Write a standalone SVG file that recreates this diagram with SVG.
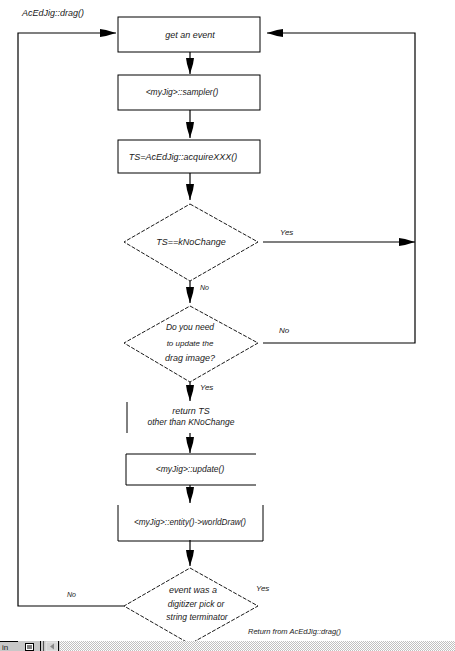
<svg xmlns="http://www.w3.org/2000/svg" width="455" height="651" viewBox="0 0 455 651">
<defs>
<style>
text{font-family:"Liberation Sans","DejaVu Sans",sans-serif;font-style:italic;fill:#1a1a1a;}
.t{font-size:9px;text-anchor:middle;}
.s{font-size:8px;}
.box{fill:#fff;stroke:#000;stroke-width:1;}
.edge{fill:none;stroke:#000;stroke-width:1;}
.dia{fill:#fff;stroke:#000;stroke-width:0.9;stroke-dasharray:4 1.5;}
.con{fill:none;stroke:#000;stroke-width:1.2;}
</style>
<marker id="ah" markerUnits="userSpaceOnUse" markerWidth="16" markerHeight="8" viewBox="0 0 16 8" refX="16" refY="4" orient="auto">
<path d="M0,0 L6,1 L16,4 L6,7 L0,8 Z" fill="#000"/>
</marker>
<pattern id="dith" width="2" height="2" patternUnits="userSpaceOnUse">
<rect width="2" height="2" fill="#fff"/>
<rect width="1" height="1" fill="#c0c0c0"/>
<rect x="1" y="1" width="1" height="1" fill="#c0c0c0"/>
</pattern>
</defs>
<rect width="455" height="651" fill="#fff"/>
<text class="s" x="22" y="16" style="font-size:9px">AcEdJig::drag()</text>

<g id="connectors">
<line class="con" x1="190" y1="52" x2="190" y2="74" marker-end="url(#ah)"/>
<line class="con" x1="190" y1="110" x2="190" y2="138" marker-end="url(#ah)"/>
<line class="con" x1="190" y1="173" x2="190" y2="200" marker-end="url(#ah)"/>
<line class="con" x1="190" y1="281" x2="190" y2="303" marker-end="url(#ah)"/>
<line class="con" x1="190" y1="382" x2="190" y2="401" marker-end="url(#ah)"/>
<line class="con" x1="190" y1="433" x2="190" y2="453" marker-end="url(#ah)"/>
<line class="con" x1="190" y1="485" x2="190" y2="503" marker-end="url(#ah)"/>
<line class="con" x1="190" y1="540" x2="190" y2="566" marker-end="url(#ah)"/>
<line class="con" x1="263" y1="242" x2="415" y2="242" marker-end="url(#ah)"/>
<polyline class="con" points="263,343 415,343 415,33 267,33" marker-end="url(#ah)"/>
<polyline class="con" points="124,606 18,606 18,33 116,33" marker-end="url(#ah)"/>
<text class="s" x="280" y="235">Yes</text>
<text class="s" x="200" y="290" style="font-size:7px">No</text>
<text class="s" x="279" y="333">No</text>
<text class="s" x="200" y="390">Yes</text>
<text class="s" x="67" y="597" style="font-size:7px">No</text>
<text class="s" x="256" y="591">Yes</text>
<text class="s" x="248" y="634" style="font-size:7.5px">Return from AcEdJig::drag()</text>
</g>

<g id="n1">
<rect class="box" x="118" y="17" width="142" height="35"/>
<text class="t" x="190" y="38">get an event</text>
</g>
<g id="n2">
<rect class="box" x="118" y="75" width="142" height="35"/>
<text class="t" x="182" y="95" style="font-size:8.5px">&lt;myJig&gt;::sampler()</text>
</g>
<g id="n3">
<rect class="box" x="118" y="140" width="142" height="33"/>
<text class="t" x="183" y="160">TS=AcEdJig::acquireXXX()</text>
</g>
<g id="d1">
<polygon class="dia" points="190,204 258,242 190,281 124,242"/>
<text class="t" x="191" y="245">TS==kNoChange</text>
</g>
<g id="d2">
<polygon class="dia" points="190,306 258,343 190,382 124,343"/>
<text class="t" x="190" y="330" style="font-size:8.5px">Do you need</text>
<text class="t" x="190" y="346" style="font-size:8px">to update the</text>
<text class="t" x="190" y="361">drag image?</text>
</g>
<g id="n4">
<line class="edge" x1="127" y1="402" x2="127" y2="433"/>
<text class="t" x="191" y="414">return TS</text>
<text class="t" x="191" y="425" style="font-size:8.5px">other than KNoChange</text>
</g>
<g id="n5">
<polyline class="edge" points="256,454 126,454 126,485 256,485"/>
<text class="t" x="190" y="472" style="font-size:8.5px">&lt;myJig&gt;::update()</text>
</g>
<g id="n6">
<polyline class="edge" points="118,505 118,541 263,541 263,505"/>
<text class="t" x="190" y="525" style="font-size:8.2px">&lt;myJig&gt;::entity()->worldDraw()</text>
</g>
<g id="d3">
<polygon class="dia" points="190,568 258,606 190,644 124,606"/>
<text class="t" x="193" y="593">event was a</text>
<text class="t" x="196" y="607" style="font-size:8.5px">digitizer pick or</text>
<text class="t" x="197" y="620" style="font-size:8.5px">string terminator</text>
</g>

<g id="statusbar">
<rect x="0" y="641" width="455" height="10" fill="url(#dith)"/>
<rect x="0" y="641" width="60" height="10" fill="#c8c8c8"/>
<line x1="0" y1="641.5" x2="18" y2="641.5" stroke="#000" stroke-width="1"/>
<text x="2" y="649.5" style="font-size:8px;font-style:normal">in</text>
<rect x="25.5" y="643.5" width="8" height="7" fill="#fff" stroke="#000"/>
<line x1="27" y1="646" x2="32" y2="646" stroke="#000"/>
<line x1="27" y1="648" x2="32" y2="648" stroke="#000"/>
<line x1="40.5" y1="641" x2="40.5" y2="651" stroke="#000"/>
<line x1="43.5" y1="641" x2="43.5" y2="651" stroke="#555"/>
<rect x="46" y="642" width="12" height="9" fill="#d4d4d4" stroke="#fff" stroke-width="0.5"/>
<polygon points="50,646.5 54,643.5 54,649.5" fill="#888"/>
<line x1="58.5" y1="641" x2="58.5" y2="651" stroke="#000"/>
</g>
</svg>
